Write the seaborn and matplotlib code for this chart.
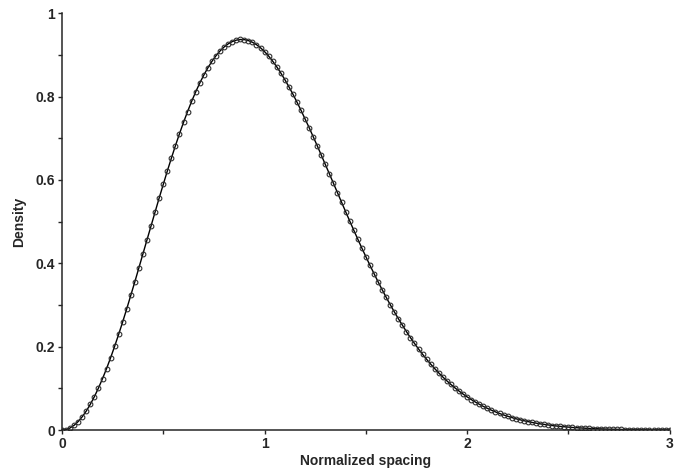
import numpy as np
import pandas as pd
import matplotlib
matplotlib.use("Agg")
import matplotlib.pyplot as plt
from matplotlib.ticker import MultipleLocator
import seaborn as sns

sns.set_style("ticks")
plt.rcParams["font.family"] = ["Liberation Sans", "DejaVu Sans"]

# Normalized spacing values (0 to 3, step 0.02)
spacing = [round(0.02 * i, 2) for i in range(151)]

# Density
density = [
    0.0000, 0.0013, 0.0052, 0.0116, 0.0206, 0.0320, 0.0458, 0.0620, 0.0803, 0.1008,
    0.1233, 0.1475, 0.1735, 0.2011, 0.2300, 0.2602, 0.2914, 0.3235, 0.3563, 0.3896,
    0.4232, 0.4569, 0.4906, 0.5240, 0.5571, 0.5896, 0.6214, 0.6522, 0.6821, 0.7107,
    0.7381, 0.7640, 0.7884, 0.8111, 0.8321, 0.8513, 0.8687, 0.8841, 0.8976, 0.9091,
    0.9186, 0.9261, 0.9316, 0.9351, 0.9367, 0.9364, 0.9341, 0.9301, 0.9243, 0.9168,
    0.9076, 0.8970, 0.8848, 0.8713, 0.8565, 0.8406, 0.8235, 0.8055, 0.7865, 0.7668,
    0.7464, 0.7254, 0.7038, 0.6819, 0.6596, 0.6372, 0.6145, 0.5918, 0.5691, 0.5465,
    0.5240, 0.5017, 0.4797, 0.4580, 0.4367, 0.4158, 0.3954, 0.3754, 0.3560, 0.3371,
    0.3188, 0.3011, 0.2840, 0.2675, 0.2517, 0.2364, 0.2218, 0.2079, 0.1945, 0.1818,
    0.1698, 0.1583, 0.1474, 0.1370, 0.1273, 0.1181, 0.1094, 0.1012, 0.0936, 0.0864,
    0.0796, 0.0733, 0.0674, 0.0619, 0.0568, 0.0521, 0.0477, 0.0436, 0.0398, 0.0363,
    0.0331, 0.0301, 0.0273, 0.0248, 0.0225, 0.0204, 0.0184, 0.0167, 0.0150, 0.0136,
    0.0122, 0.0110, 0.0098, 0.0088, 0.0079, 0.0071, 0.0063, 0.0057, 0.0051, 0.0045,
    0.0040, 0.0036, 0.0032, 0.0028, 0.0025, 0.0022, 0.0019, 0.0017, 0.0015, 0.0013,
    0.0012, 0.0010, 0.0009, 0.0008, 0.0007, 0.0006, 0.0005, 0.0004, 0.0004, 0.0003,
    0.0003,
]

x_ticks = [0, 1, 2, 3]
x_ticklabels = ["0", "1", "2", "3"]
y_ticks = [0, 0.2, 0.4, 0.6, 0.8, 1]
y_ticklabels = ["0", "0.2", "0.4", "0.6", "0.8", "1"]

df = pd.DataFrame({"spacing": spacing, "density": density})

fig = plt.figure(figsize=(6.76, 4.68), dpi=100)
ax = fig.add_axes([0.0917, 0.081, 0.899, 0.891])

# Theory line
sns.lineplot(data=df, x="spacing", y="density", ax=ax, color="black", linewidth=1.0)
# Data points
sns.lineplot(data=df, x="spacing", y="density", ax=ax, linestyle="none",
             marker="o", markersize=3.4, markerfacecolor="none",
             markeredgecolor="#2e2e2e", markeredgewidth=0.8)

ax.set_xlim(0, 3)
ax.set_ylim(0, 1)
ax.set_xticks(x_ticks)
ax.set_xticklabels(x_ticklabels, fontweight="bold")
ax.set_yticks(y_ticks)
ax.set_yticklabels(y_ticklabels, fontweight="bold")
ax.xaxis.set_minor_locator(MultipleLocator(0.5))
ax.yaxis.set_minor_locator(MultipleLocator(0.1))
ax.tick_params(which="both", direction="out", length=3, width=1, labelsize=10, pad=2)

ax.set_xlabel("Normalized spacing", fontsize=10, fontweight="bold", labelpad=2)
ax.set_ylabel("Density", fontsize=10, fontweight="bold", labelpad=7)

sns.despine(ax=ax)
for sp in ["left", "bottom"]:
    ax.spines[sp].set_linewidth(1.1)

fig.savefig("out.png", dpi=100)
